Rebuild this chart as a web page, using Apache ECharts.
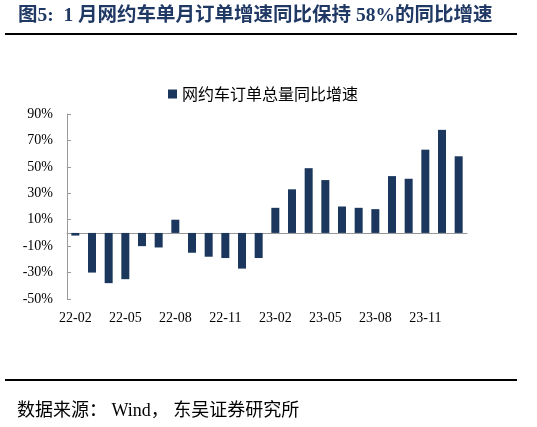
<!DOCTYPE html>
<html>
<head>
<meta charset="utf-8">
<script src="https://cdn.jsdelivr.net/npm/echarts@6/dist/echarts.min.js"></script>
<style>
  html, body { margin: 0; padding: 0; background: #fff; }
  #chart { width: 537px; height: 427px; }
</style>
</head>
<body>
<div id="chart"></div>
<script>
// 网约车订单总量同比增速，22-02 ~ 24-01
var months = [
  "22-02", "22-03", "22-04", "22-05", "22-06", "22-07", "22-08", "22-09", "22-10", "22-11", "22-12",
  "23-01", "23-02", "23-03", "23-04", "23-05", "23-06", "23-07", "23-08", "23-09", "23-10", "23-11", "23-12",
  "24-01"
];
var growth = [-2, -30, -38, -35, -10, -11, 10, -15, -18, -19, -27, -19,
  19, 33, 49, 40, 20, 19, 18, 43, 41, 63, 78, 58];
var seriesName = "网约车订单总量同比增速";
var titleText = "图5:  1 月网约车单月订单增速同比保持 58%的同比增速";
var sourceText = "数据来源： Wind， 东吴证券研究所";

var chart = echarts.init(document.getElementById("chart"));
var serif = "'Liberation Serif', 'Noto Sans CJK SC', serif";

var option = {
  animation: false,
  grid: { left: 67, right: 70, top: 114, bottom: 128, containLabel: false },
  legend: {
    data: [seriesName],
    top: 81,
    left: 163,
    icon: "rect",
    itemWidth: 9,
    itemHeight: 9,
    itemGap: 4,
    textStyle: { fontFamily: "'Noto Sans CJK SC'", fontSize: 16, color: "#000" }
  },
  graphic: [
    {
      type: "text",
      left: 18,
      top: 6,
      style: {
        text: titleText,
        fontFamily: "'Liberation Serif', 'Noto Sans CJK SC'",
        fontWeight: "bold",
        fontSize: 19.5,
        fill: "#1f3864"
      }
    },
    {
      type: "rect",
      shape: { x: 5, y: 33, width: 512, height: 2 },
      style: { fill: "#000" }
    },
    {
      type: "rect",
      shape: { x: 5, y: 379, width: 512, height: 2 },
      style: { fill: "#000" }
    },
    {
      type: "text",
      left: 17,
      top: 402,
      style: {
        text: sourceText,
        fontFamily: "'Liberation Serif', 'Noto Sans CJK SC'",
        fontSize: 18,
        fill: "#000"
      }
    }
  ],
  xAxis: {
    type: "category",
    data: months,
    axisLine: { onZero: true, lineStyle: { color: "#999", width: 1 } },
    axisTick: { inside: true, length: 4, interval: 2, lineStyle: { color: "#999" } },
    axisLabel: {
      interval: 2,
      margin: 12,
      fontFamily: serif,
      fontSize: 14,
      color: "#000"
    }
  },
  yAxis: {
    type: "value",
    min: -50,
    max: 90,
    interval: 20,
    axisLine: { show: true, lineStyle: { color: "#999", width: 1 } },
    axisTick: { show: true, inside: true, length: 4, lineStyle: { color: "#999" } },
    splitLine: { show: false },
    axisLabel: {
      formatter: "{value}%",
      margin: 14,
      fontFamily: serif,
      fontSize: 14,
      color: "#000"
    }
  },
  series: [
    {
      name: seriesName,
      type: "bar",
      data: growth,
      barWidth: 8,
      itemStyle: { color: "#1b375e" }
    }
  ]
};

chart.setOption(option);
</script>
</body>
</html>
